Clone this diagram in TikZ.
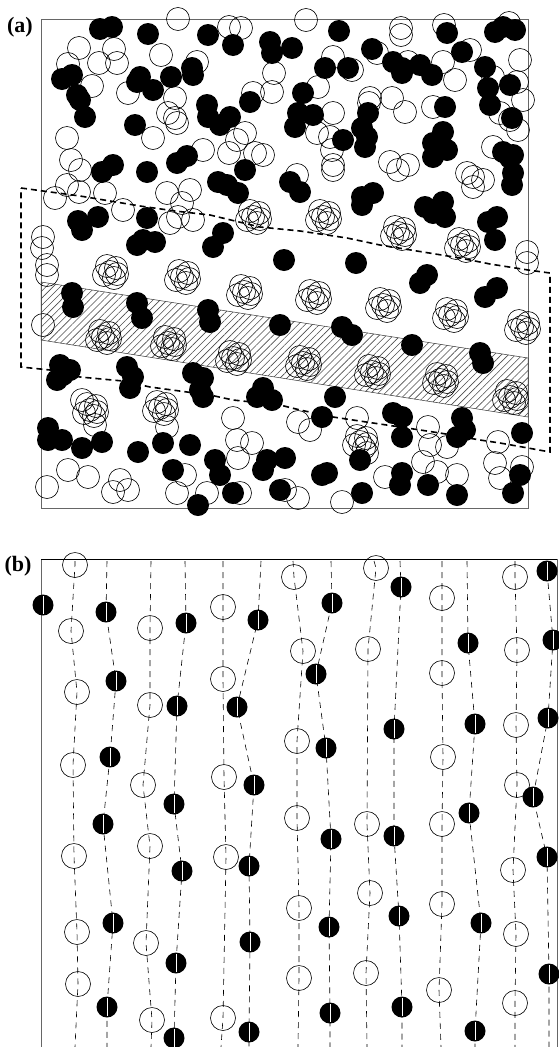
\documentclass[tikz,border=0pt]{standalone}
\usepackage{fontspec}
\setmainfont{Liberation Serif}
\usetikzlibrary{patterns.meta}
\tikzset{
  panellabel/.style={font=\fontsize{22}{24}\selectfont\bfseries, inner sep=0pt},
  frameline/.style={draw=black!60, line width=0.8pt},
  openring/.style={draw=black, line width=0.6pt},
  fulldisk/.style={fill=black},
  band/.style={pattern={Lines[angle=45, distance=5pt, line width=0.6pt]},
    pattern color=black!70, draw=black!80, line width=0.5pt},
  boundary/.style={draw=black, line width=1.6pt, dash pattern=on 6pt off 4pt},
  trackline/.style={draw=black, line width=0.6pt, dash pattern=on 6pt off 5pt},
  slit/.style={draw=white, line width=0.4pt},
}

\begin{document}
\begin{tikzpicture}[x=1pt, y=-1pt]
  \useasboundingbox (0,0) rectangle (559,1047);

  % ==================================================================
  % Panel (a): disordered mixture with hatched band
  % ==================================================================
  \node[panellabel] (labelA) at (20,27) {(a)};
  \draw[frameline] (41,19) rectangle (528,508);

  \path[band] (41,282) -- (528,358) -- (528,417) -- (41,340) -- cycle;

  % single open circles
  \foreach \x/\y in {178/19,229/27,241/28,79/48,114/49,68/64,99/63,117/63,
      161/55,197/62,92/86,128/93,175/98,168/113,175/118,177/123,67/138,
      153/138,203/150,245/133,237/140,229/153,255/153,263/155,71/160,80/170,
      67/185,79/192,55/198,105/193,123/210,167/193,190/190,182/203,178/217,
      193/220,170/223,274/73,253/93,272/92,43/237,42/248,
      306/20,401/28,401/35,444/25,509/23,333/57,352/70,377/53,408/62,443/62,
      455/80,470/50,520/60,493/77,517/82,523/100,318/87,333/113,370/98,
      369/103,392/98,405/112,433/107,317/133,330/137,332/150,333/165,333/170,
      390/162,398/170,408/165,493/147,518/130,510/120,500/113,467/173,
      473/177,483/180,473/187,297/175,527/252,527/263,
      47/265,47/275,43/325,82/400,95/425,167/427,233/418,237/440,252/443,
      238/458,68/470,88/477,47/487,120/480,113/492,128/490,185/475,177/493,
      207/493,240/493,
      298/422,310/430,357/418,367/453,428/427,430/445,447/447,423/462,
      437/472,457/475,498/442,495/463,500/478,522/467,385/477,298/498,
      342/502,285/490}
    \draw[openring] (\x,\y) circle (11.5pt);

  % clustered rings
  \foreach \x/\y in {253/217,110/272,182/277,244/292,103/337,168/343,
      233/358,90/410,160/408,323/217,398/233,462/245,313/297,383/305,
      450/315,522/327,303/363,372/372,440/380,510/397,360/442}
    \foreach \dx/\dy in {0/0,6/-4,-6/3,4/6,-3/-6,7/2}
      \draw[openring] (\x+\dx,\y+\dy) circle (11.5pt);

  % filled discs
  \foreach \x/\y in {100/29,112/27,148/34,208/35,233/45,270/42,272/53,
      62/79,72/75,77/95,80/100,85/117,140/77,137/82,153/90,171/77,192/68,
      193/75,135/125,207/105,208/117,220/125,230/117,250/102,177/163,
      187/156,147/172,102/172,113/165,218/182,227/185,238/193,245/170,
      78/221,82/230,98/217,147/218,143/240,155/242,137/245,223/233,213/247,
      284/260,
      339/31,292/48,447/33,495/32,503/27,515/30,372/49,325/68,348/68,393/62,
      402/68,402/73,420/65,432/75,462/52,485/67,488/88,490/105,510/85,
      303/93,298/113,313/115,295/127,368/113,362/128,367/137,365/147,
      343/140,445/107,443/132,433/143,447/150,433/157,512/118,503/152,
      513/155,510/158,513/173,512/185,290/182,300/192,362/197,373/193,
      362/205,425/207,443/202,445/217,433/213,497/217,488/222,495/240,
      356/263,
      72/293,73/307,137/303,142/318,208/310,210/322,280/325,60/365,63/375,
      70/370,57/380,127/367,133/377,130/388,193/373,203/378,200/390,203/397,
      263/388,257/397,272/400,48/428,48/440,62/440,82/448,102/442,138/452,
      163/443,190/445,173/470,215/460,220/475,267/460,263/470,198/505,
      233/493,
      420/283,427/275,485/297,497/288,342/327,352/335,412/345,480/353,
      483/363,335/397,322/417,393/413,402/417,402/437,462/418,465/430,
      457/437,522/433,285/458,322/475,327/473,360/460,402/473,400/485,
      428/485,520/475,513/493,457/495,362/493,280/490}
    \fill[fulldisk] (\x,\y) circle (11pt);

  % dashed boundary of the region
  \draw[boundary] (21,188) -- (43,191) -- (80,196) -- (110,201) -- (140,206)
    -- (175,211) -- (210,215) -- (235,221) -- (260,227) -- (300,231)
    -- (347,238) -- (380,245) -- (423,252) -- (460,258) -- (490,264)
    -- (528,270) -- (550,273) -- (550,452) -- (528,448) -- (500,443)
    -- (480,440) -- (440,433) -- (407,428) -- (373,423) -- (333,417)
    -- (300,410) -- (280,405) -- (233,400) -- (210,395) -- (187,392)
    -- (150,387) -- (123,381) -- (80,377) -- (50,370) -- (21,367) -- cycle;

  % ==================================================================
  % Panel (b): particles along dashed tracks
  % ==================================================================
  \node[panellabel] (labelB) at (18,566) {(b)};
  \draw[frameline] (41,1047) -- (41,559);
  \draw[draw=black, line width=0.8pt] (41,559) -- (557,559);
  \draw[frameline] (557,559) -- (557,1047);

  % tracks
  \draw[trackline] plot coordinates {(75,561) (75,565) (71,631) (77,692)
    (73,765) (74,856) (77,932) (78,984) (75,1047)};
  \draw[trackline] plot coordinates {(107,561) (106,612) (116,681)
    (110,757) (103,824) (113,923) (107,1007) (107,1047)};
  \draw[trackline] plot coordinates {(151,561) (150,628) (150,705)
    (143,785) (150,846) (146,943) (152,1020) (151,1047)};
  \draw[trackline] plot coordinates {(185,561) (186,623) (177,706)
    (174,804) (182,871) (176,963) (174,1038) (174,1047)};
  \draw[trackline] plot coordinates {(223,561) (223,607) (223,679)
    (224,777) (226,857) (223,1018) (221,1047)};
  \draw[trackline] plot coordinates {(261,561) (258,620) (237,707)
    (254,785) (249,866) (250,942) (249,1032) (249,1047)};
  \draw[trackline] plot coordinates {(293,561) (294,577) (303,651)
    (297,741) (297,818) (299,908) (299,978) (298,1047)};
  \draw[trackline] plot coordinates {(331,561) (332,603) (316,674)
    (326,748) (331,839) (329,927) (330,1013) (330,1047)};
  \draw[trackline] plot coordinates {(374,561) (376,568) (368,649)
    (367,824) (370,893) (366,973) (367,1047)};
  \draw[trackline] plot coordinates {(400,561) (401,587) (394,729)
    (394,836) (399,916) (402,1007) (402,1047)};
  \draw[trackline] plot coordinates {(442,561) (442,598) (442,673)
    (443,757) (442,824) (442,904) (439,990) (441,1047)};
  \draw[trackline] plot coordinates {(467,561) (468,643) (475,724)
    (469,813) (481,923) (475,1031) (475,1047)};
  \draw[trackline] plot coordinates {(515,561) (515,577) (517,650)
    (516,725) (517,785) (513,870) (516,934) (515,1003) (515,1047)};
  \draw[trackline] plot coordinates {(547,561) (547,571) (553,640)
    (548,718) (533,797) (547,857) (549,974) (549,1047)};

  % open particles
  \foreach \x/\y in {75/565,71/631,77/692,73/765,74/856,77/932,78/984,
      150/628,150/705,143/785,150/846,146/943,152/1020,
      223/607,223/679,224/777,226/857,223/1018,
      294/577,303/651,297/741,297/818,299/908,299/978,
      376/568,368/649,367/824,370/893,366/973,
      442/598,442/673,443/757,442/824,442/904,439/990,
      515/577,517/650,516/725,517/785,513/870,516/934,515/1003}
    \draw[openring] (\x,\y) circle (12.5pt);

  % filled particles
  \foreach \x/\y in {43/605,
      106/612,116/681,110/757,103/824,113/923,107/1007,
      186/623,177/706,174/804,182/871,176/963,174/1038,
      258/620,237/707,254/785,249/866,250/942,249/1032,
      332/603,316/674,326/748,331/839,329/927,330/1013,
      401/587,394/729,394/836,399/916,402/1007,
      468/643,475/724,469/813,481/923,475/1031,
      547/571,553/640,548/718,533/797,547/857,549/974}
  {
    \fill[fulldisk] (\x,\y) circle (10.5pt);
    \draw[slit] (\x,\y-9) -- (\x,\y+9);
  }

\end{tikzpicture}
\end{document}
